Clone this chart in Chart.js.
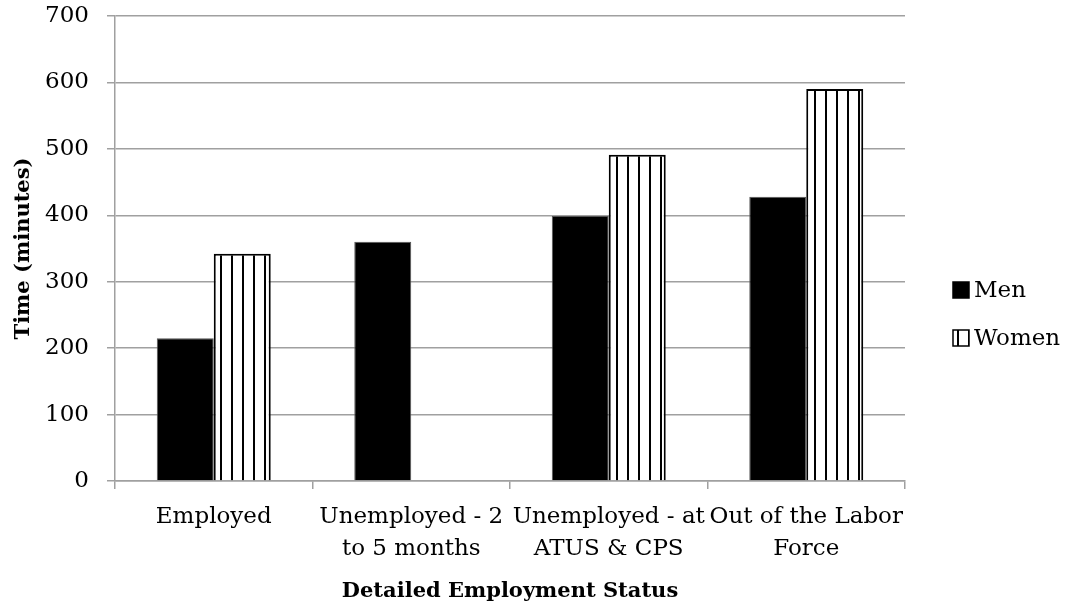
<!DOCTYPE html>
<html>
<head>
<meta charset="utf-8">
<script src="https://cdn.jsdelivr.net/npm/chart.js@4.4.0/dist/chart.umd.min.js"></script>
<style>
  html, body { margin: 0; padding: 0; background: #fff; }
  #wrap { width: 1068px; height: 607px; }
</style>
</head>
<body>
<div id="wrap"><canvas id="timeChart"></canvas></div>
<script>
// Time by detailed employment status

const categories = [
  ['Employed'],
  ['Unemployed - 2', 'to 5 months'],
  ['Unemployed - at', 'ATUS & CPS'],
  ['Out of the Labor', 'Force']
];
const seriesNames = ['Men', 'Women'];
const menValues = [215, 360, 399, 428];
const womenValues = [342, null, 491, 590];
const yTicks = [0, 100, 200, 300, 400, 500, 600, 700];

const FONT = "'DejaVu Serif', 'Liberation Serif', serif";

function stripePattern() {
  const c = document.createElement('canvas');
  c.width = 11;
  c.height = 10;
  const g = c.getContext('2d');
  g.fillStyle = '#ffffff';
  g.fillRect(0, 0, 11, 10);
  g.fillStyle = '#000000';
  g.fillRect(0, 0, 2, 10);
  return g.createPattern(c, 'repeat');
}

// simple legend on the right, drawn from the datasets
const sideLegend = {
  id: 'sideLegend',
  afterDraw(chart) {
    const ctx = chart.ctx;
    const x = 953, y0 = 290, step = 48, box = 16;
    ctx.save();
    chart.data.datasets.forEach(function (ds, i) {
      const cy = y0 + i * step;
      ctx.fillStyle = ds.backgroundColor;
      ctx.fillRect(x, cy - box / 2, box, box);
      ctx.lineWidth = 1.5;
      ctx.strokeStyle = '#000';
      ctx.strokeRect(x, cy - box / 2, box, box);
      ctx.fillStyle = '#000';
      ctx.font = '23px ' + FONT;
      ctx.textBaseline = 'middle';
      ctx.textAlign = 'left';
      ctx.fillText(ds.label, x + box + 5, cy + 1);
    });
    ctx.restore();
  }
};

const ctx = document.getElementById('timeChart');

new Chart(ctx.getContext('2d'), {
  type: 'bar',
  data: {
    labels: categories,
    datasets: [
      {
        label: seriesNames[0],
        data: menValues,
        backgroundColor: '#000000',
        borderColor: '#555555',
        borderWidth: 1
      },
      {
        label: seriesNames[1],
        data: womenValues,
        backgroundColor: stripePattern(),
        borderColor: '#000000',
        borderWidth: 2
      }
    ]
  },
  options: {
    responsive: true,
    maintainAspectRatio: false,
    animation: false,
    categoryPercentage: 0.577,
    barPercentage: 1.0,
    layout: { padding: { top: 16, right: 163, left: 0, bottom: 0 } },
    plugins: {
      legend: { display: false },
      tooltip: { enabled: false }
    },
    scales: {
      x: {
        afterFit: function (scale) { scale.height = 126; },
        grid: {
          offset: true,
          drawOnChartArea: false,
          drawTicks: true,
          tickLength: 8,
          color: '#a0a0a0',
          lineWidth: 1.5
        },
        border: { color: '#a0a0a0', width: 1.5 },
        ticks: {
          color: '#000',
          padding: 12,
          maxRotation: 0,
          autoSkip: false,
          font: { family: FONT, size: 23, lineHeight: 1.39 }
        },
        title: {
          display: true,
          text: 'Detailed Employment Status',
          color: '#000',
          padding: { top: 0, bottom: 3 },
          font: { family: FONT, size: 21, weight: 'bold', lineHeight: 1.2 }
        }
      },
      y: {
        min: 0,
        max: 700,
        afterFit: function (scale) {
          scale.width = 115;
          // tick padding is horizontal only here, keep it out of the top/bottom margin
          scale.paddingTop = 14;
          scale.paddingBottom = 14;
        },
        afterBuildTicks: function (scale) {
          scale.ticks = yTicks.map(function (v) { return { value: v }; });
        },
        grid: {
          color: '#a0a0a0',
          lineWidth: 1.5,
          tickLength: 8
        },
        border: { color: '#a0a0a0', width: 1.5 },
        ticks: {
          color: '#000',
          padding: 18,
          font: { family: FONT, size: 23 }
        },
        title: {
          display: true,
          text: 'Time (minutes)',
          color: '#000',
          padding: { top: 11, bottom: 0 },
          font: { family: FONT, size: 21, weight: 'bold', lineHeight: 1.2 }
        }
      }
    }
  },
  plugins: [sideLegend]
});
</script>
</body>
</html>
